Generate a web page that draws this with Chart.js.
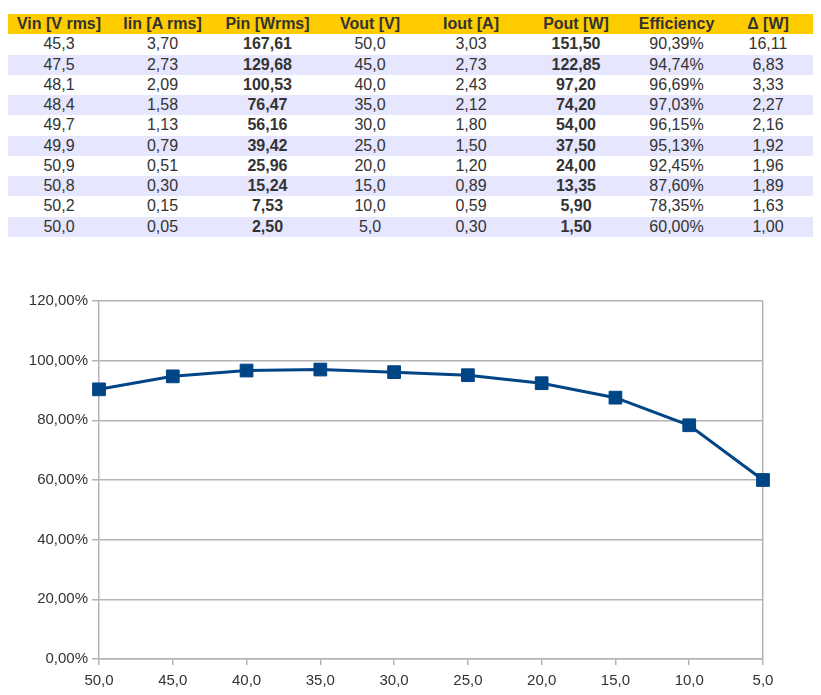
<!DOCTYPE html>
<html>
<head>
<meta charset="utf-8">
<script src="https://cdn.jsdelivr.net/npm/chart.js@4"></script>
<style>
  body { margin: 0; background: #fff; width: 821px; height: 695px; overflow: hidden; position: relative;
         font-family: "Liberation Sans", Arial, sans-serif; color: #333; }
  #tbl { position: absolute; left: 8px; top: 14px; border-collapse: collapse; font-size: 16px; }
  #tbl td, #tbl th { padding: 0; height: 20.25px; line-height: 20.25px; text-align: center; white-space: nowrap; }
  #tbl th { background: #ffcc00; font-weight: bold; color: #333; }
  #tbl tr.alt td { background: #e6e6ff; }
  #tbl td.b { font-weight: bold; }
  #box { position: absolute; left: 0; top: 285px; width: 821px; height: 410px; }
</style>
</head>
<body>
<table id="tbl"></table>
<div id="box"><canvas id="chart"></canvas></div>
<script>
// dati misurati
let headers = ['Vin [V rms]', 'Iin [A rms]', 'Pin [Wrms]', 'Vout [V]', 'Iout [A]', 'Pout [W]', 'Efficiency', 'Δ [W]'];
let vin = [45.3, 47.5, 48.1, 48.4, 49.7, 49.9, 50.9, 50.8, 50.2, 50.0];
let iin = [3.70, 2.73, 2.09, 1.58, 1.13, 0.79, 0.51, 0.30, 0.15, 0.05];
let pin = [167.61, 129.68, 100.53, 76.47, 56.16, 39.42, 25.96, 15.24, 7.53, 2.50];
let vout = [50.0, 45.0, 40.0, 35.0, 30.0, 25.0, 20.0, 15.0, 10.0, 5.0];
let iout = [3.03, 2.73, 2.43, 2.12, 1.80, 1.50, 1.20, 0.89, 0.59, 0.30];
let pout = [151.50, 122.85, 97.20, 74.20, 54.00, 37.50, 24.00, 13.35, 5.90, 1.50];
let efficiency = [90.39, 94.74, 96.69, 97.03, 96.15, 95.13, 92.45, 87.60, 78.35, 60.00];
let delta = [16.11, 6.83, 3.33, 2.27, 2.16, 1.92, 1.96, 1.89, 1.63, 1.00];
let yTicks = [0, 20, 40, 60, 80, 100, 120];

let colW = [102, 105, 105, 100, 102, 108, 93, 90];

function fmt(v, d) { return v.toFixed(d).replace('.', ','); }

// tabella
let tbl = document.getElementById('tbl');
let hr = document.createElement('tr');
headers.forEach((h, i) => {
    let th = document.createElement('th');
    th.textContent = h;
    th.style.width = colW[i] + 'px';
    hr.appendChild(th);
});
tbl.appendChild(hr);

for (let i = 0; i < vin.length; i++) {
    let tr = document.createElement('tr');
    if (i % 2 == 1) tr.className = 'alt';
    let cells = [
        [fmt(vin[i], 1), false], [fmt(iin[i], 2), false], [fmt(pin[i], 2), true],
        [fmt(vout[i], 1), false], [fmt(iout[i], 2), false], [fmt(pout[i], 2), true],
        [fmt(efficiency[i], 2) + '%', false], [fmt(delta[i], 2), false]
    ];
    for (let c of cells) {
        let td = document.createElement('td');
        td.textContent = c[0];
        if (c[1]) td.className = 'b';
        tr.appendChild(td);
    }
    tbl.appendChild(tr);
}

// grafico
let gridCol = '#b3b3b3';
let ctx = document.getElementById('chart').getContext('2d');
let chart = new Chart(ctx, {
    type: 'line',
    data: {
        labels: vout.map(v => fmt(v, 1)),
        datasets: [{
            data: efficiency,
            borderColor: '#004586',
            backgroundColor: '#004586',
            borderWidth: 3,
            pointStyle: 'rect',
            pointRadius: 9,
            pointHoverRadius: 9,
            pointBorderWidth: 1,
            tension: 0
        }]
    },
    options: {
        responsive: true,
        maintainAspectRatio: false,
        animation: false,
        layout: { padding: { left: 0, right: 58, top: 16, bottom: 0 } },
        plugins: { legend: { display: false }, tooltip: { enabled: false } },
        scales: {
            x: {
                offset: false,
                grid: {
                    color: c => (c.index == vout.length - 1 ? gridCol : 'rgba(0,0,0,0)'),
                    tickColor: gridCol,
                    tickLength: 6,
                    lineWidth: 1.5
                },
                border: { display: true, color: gridCol, width: 1.5 },
                ticks: {
                    color: '#333',
                    font: { family: 'Liberation Sans', size: 15 },
                    padding: 7,
                    maxRotation: 0,
                    autoSkip: false
                },
                afterFit: s => { s.height = 36; }
            },
            y: {
                min: 0,
                max: 120,
                afterBuildTicks: s => { s.ticks = yTicks.map(v => ({ value: v })); },
                grid: { color: gridCol, tickColor: gridCol, tickLength: 7, lineWidth: 1.5 },
                border: { display: true, color: gridCol, width: 1.5 },
                ticks: {
                    color: '#333',
                    font: { family: 'Liberation Sans', size: 15 },
                    padding: 4,
                    callback: v => fmt(v, 2) + '%'
                },
                afterFit: s => { s.width = 99; }
            }
        }
    }
});
</script>
</body>
</html>
